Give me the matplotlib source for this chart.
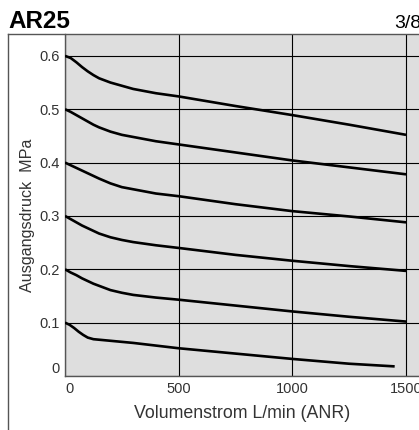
import matplotlib
matplotlib.use("Agg")
import matplotlib.pyplot as plt
from matplotlib.lines import Line2D

plt.rcParams['font.family'] = ['Liberation Sans', 'DejaVu Sans']

# flow rate L/min (ANR) and outlet pressure MPa, one curve per set pressure
flow = [0, 25, 50, 75, 100, 125, 150, 200, 250, 300, 400, 500, 750, 1000, 1250, 1500]
p06 = [0.600, 0.596, 0.588, 0.579, 0.571, 0.564, 0.558, 0.550, 0.544, 0.538, 0.530, 0.524, 0.506, 0.489, 0.471, 0.452]
p05 = [0.500, 0.495, 0.489, 0.483, 0.477, 0.471, 0.466, 0.458, 0.452, 0.448, 0.440, 0.434, 0.419, 0.404, 0.391, 0.378]
p04 = [0.400, 0.395, 0.390, 0.385, 0.380, 0.375, 0.370, 0.361, 0.354, 0.350, 0.342, 0.337, 0.322, 0.309, 0.299, 0.288]
p03 = [0.300, 0.294, 0.288, 0.282, 0.277, 0.272, 0.267, 0.260, 0.255, 0.251, 0.245, 0.240, 0.227, 0.216, 0.206, 0.197]
p02 = [0.200, 0.194, 0.189, 0.183, 0.178, 0.173, 0.169, 0.161, 0.156, 0.152, 0.147, 0.143, 0.132, 0.121, 0.111, 0.102]
flow01 = [0, 20, 40, 60, 80, 100, 125, 150, 200, 250, 300, 400, 500, 750, 1000, 1250, 1450]
p01 = [0.100, 0.096, 0.090, 0.083, 0.077, 0.072, 0.069, 0.068, 0.066, 0.064, 0.062, 0.057, 0.052, 0.042, 0.032, 0.023, 0.018]

xticks = [0, 500, 1000, 1500]
yticks = [0, 0.1, 0.2, 0.3, 0.4, 0.5, 0.6]
ytick_labels = ["0", "0.1", "0.2", "0.3", "0.4", "0.5", "0.6"]

W, H = 419, 430
fig = plt.figure(figsize=(W / 100, H / 100), dpi=100)
ax = fig.add_axes([65 / W, 1 - 376 / H, (W - 65) / W, (376 - 34) / H])
ax.set_facecolor('#dedede')

for p in [p06, p05, p04, p03, p02]:
    ax.plot(flow, p, color='black', lw=1.9, solid_capstyle='butt', zorder=3)
ax.plot(flow01, p01, color='black', lw=1.9, solid_capstyle='butt', zorder=3)

ax.set_xlim(0, 1557)
ax.set_ylim(0, 0.641)
ax.set_xticks(xticks)
ax.set_xticklabels([str(t) for t in xticks])
ax.set_yticks(yticks)
ax.set_yticklabels(ytick_labels)
ax.grid(True, color='black', lw=0.8)
ax.set_axisbelow(True)
ax.tick_params(length=0, labelsize=10.5, labelcolor='#333333', pad=4)
ax.get_xticklabels()[0].set_horizontalalignment('left')
ax.get_yticklabels()[0].set_verticalalignment('bottom')

for s in ['top', 'right']:
    ax.spines[s].set_visible(False)
ax.spines['left'].set_color('#555555')
ax.spines['bottom'].set_color('#555555')
ax.spines['left'].set_linewidth(1.0)
ax.spines['bottom'].set_linewidth(1.0)

ax.set_xlabel("Volumenstrom L/min (ANR)", fontsize=12.8, color='#333333', labelpad=7)
ax.set_ylabel("Ausgangsdruck  MPa", fontsize=11.6, color='#333333')
ax.yaxis.set_label_coords(-30 / (W - 65), 0.47)

# outer frame
fig.add_artist(Line2D([8 / W, 8 / W], [0, 1 - 34 / H], color='#555555', lw=1.0))
fig.add_artist(Line2D([8 / W, 1], [1 - 34 / H, 1 - 34 / H], color='#555555', lw=1.0))

fig.text(8 / W, 1 - 28 / H, "AR25", fontsize=17.5, fontweight='bold', ha='left', va='baseline')
fig.text(394 / W, 1 - 28 / H, "3/8", fontsize=14, ha='left', va='baseline')

fig.savefig("out.png", dpi=100)
